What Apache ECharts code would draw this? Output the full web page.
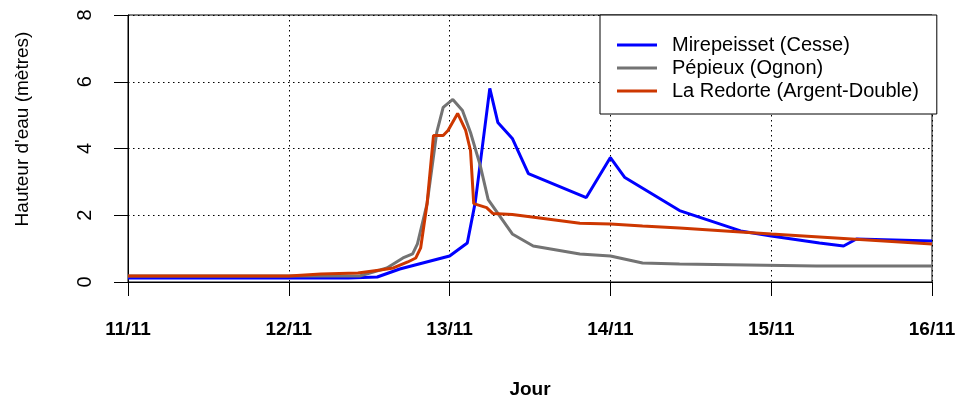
<!DOCTYPE html>
<html>
<head>
<meta charset="utf-8">
<script src="https://cdn.jsdelivr.net/npm/echarts@6/dist/echarts.min.js"></script>
<style>
  html, body { margin: 0; padding: 0; background: #fff; }
  #crue { width: 957px; height: 403px; }
</style>
</head>
<body>
<div id="crue"></div>
<script>
// jours depuis le 11/11 00h, hauteur en metres
var jours = ['11/11', '12/11', '13/11', '14/11', '15/11', '16/11'];
var noms = ['Mirepeisset (Cesse)', 'Pépieux (Ognon)', 'La Redorte (Argent-Double)'];

var mirepeisset = [
  [0, 0.12], [1.37, 0.12], [1.55, 0.15], [1.69, 0.39], [2.0, 0.78], [2.11, 1.17],
  [2.16, 2.4], [2.25, 5.8], [2.30, 4.78], [2.39, 4.3], [2.49, 3.25], [2.85, 2.53],
  [3.0, 3.73], [3.09, 3.13], [3.43, 2.14], [3.81, 1.53], [4.0, 1.38], [4.30, 1.17],
  [4.45, 1.08], [4.53, 1.29], [5.0, 1.23]
];
var pepieux = [
  [0, 0.18], [1.44, 0.18], [1.61, 0.42], [1.71, 0.72], [1.77, 0.84], [1.80, 1.14],
  [1.86, 2.35], [1.92, 4.48], [1.96, 5.23], [2.02, 5.47], [2.08, 5.14], [2.13, 4.48],
  [2.19, 3.5], [2.24, 2.47], [2.39, 1.44], [2.52, 1.08], [2.81, 0.84], [3.0, 0.78],
  [3.20, 0.57], [3.43, 0.54], [4.28, 0.48], [5.0, 0.48]
];
var redorte = [
  [0, 0.18], [1.0, 0.18], [1.2, 0.24], [1.43, 0.27], [1.57, 0.36], [1.65, 0.42],
  [1.74, 0.6], [1.79, 0.72], [1.82, 1.02], [1.86, 2.35], [1.90, 4.39], [1.96, 4.39],
  [1.99, 4.54], [2.05, 5.05], [2.10, 4.54], [2.13, 3.94], [2.15, 2.35], [2.23, 2.23],
  [2.27, 2.05], [2.39, 2.02], [2.56, 1.92], [2.81, 1.76], [3.0, 1.74], [3.2, 1.68],
  [3.43, 1.62], [4.0, 1.44], [5.0, 1.14]
];
var couleurs = ['#0000ff', '#737373', '#cd3700'];

var police = 'Liberation Sans, Arial, sans-serif';
var myChart = echarts.init(document.getElementById('crue'));

var pointille = { color: '#000', width: 1, type: [1.5, 3.5] };

var option = {
  animation: false,
  backgroundColor: '#fff',
  grid: {
    left: 128, right: 25, top: 15, bottom: 121,
    outerBoundsMode: 'none', containLabel: false,
    show: true, borderColor: '#000', borderWidth: 1
  },
  legend: {
    data: noms,
    icon: 'rect',
    orient: 'vertical',
    left: 600,
    top: 15,
    padding: [20, 18, 13, 17],
    itemWidth: 40,
    itemHeight: 3,
    itemGap: 3,
    borderColor: '#000',
    borderWidth: 1,
    borderRadius: 0,
    backgroundColor: '#fff',
    textStyle: { fontFamily: police, fontSize: 20, color: '#000', padding: [0, 0, 0, 10] }
  },
  xAxis: {
    type: 'value',
    min: 0,
    max: 5,
    interval: 1,
    axisLine: { lineStyle: { color: '#000', width: 1 } },
    axisTick: { length: 14, lineStyle: { color: '#000' } },
    axisLabel: {
      margin: 38,
      fontFamily: police,
      fontWeight: 'bold',
      fontSize: 19,
      color: '#000',
      formatter: function (v) { return jours[Math.round(v)]; }
    },
    splitLine: { lineStyle: pointille }
  },
  yAxis: {
    type: 'value',
    min: 0,
    max: 8,
    interval: 2,
    axisLine: { show: true, lineStyle: { color: '#000', width: 1 } },
    axisTick: { show: true, length: 14, lineStyle: { color: '#000' } },
    axisLabel: { rotate: 90, margin: 33, fontFamily: police, fontSize: 20, color: '#000' },
    splitLine: { lineStyle: pointille }
  },
  graphic: [
    {
      type: 'text', x: 23, y: 129, rotation: Math.PI / 2,
      style: { text: "Hauteur d'eau (mètres)", fontFamily: police, fontSize: 19, fill: '#000', align: 'center', verticalAlign: 'middle' }
    },
    {
      type: 'text', x: 530, y: 390,
      style: { text: 'Jour', fontFamily: police, fontSize: 19, fontWeight: 'bold', fill: '#000', align: 'center', verticalAlign: 'middle' }
    }
  ],
  series: [
    { name: noms[0], type: 'line', data: mirepeisset, symbol: 'none', color: couleurs[0], lineStyle: { width: 3 } },
    { name: noms[1], type: 'line', data: pepieux, symbol: 'none', color: couleurs[1], lineStyle: { width: 3 } },
    { name: noms[2], type: 'line', data: redorte, symbol: 'none', color: couleurs[2], lineStyle: { width: 3 } }
  ]
};
myChart.setOption(option);
</script>
</body>
</html>
